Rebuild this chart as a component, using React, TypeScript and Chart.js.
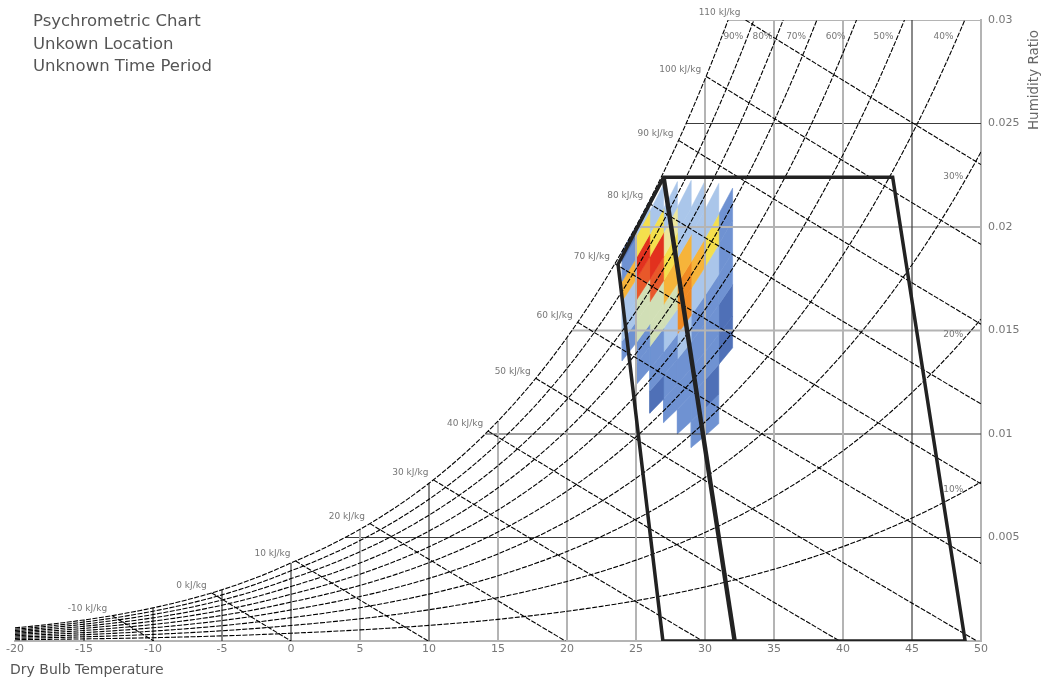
import { useEffect, useRef } from 'react';
import { Chart, registerables } from 'chart.js';

Chart.register(...registerables);

// ---- chart text ----
const TITLE_LINES = ['Psychrometric Chart', 'Unkown Location', 'Unknown Time Period'];
const X_TITLE = 'Dry Bulb Temperature';
const Y_TITLE = 'Humidity Ratio';

// ---- axes ----
const T_MIN = -20;
const T_MAX = 50;
const W_MAX = 0.03;
const X_TICKS = [-20, -15, -10, -5, 0, 5, 10, 15, 20, 25, 30, 35, 40, 45, 50];
const W_TICKS = [0.005, 0.01, 0.015, 0.02, 0.025, 0.03];
const DARK_T_GRID = [-15, -10, -5, 0, 10, 45];
const DARK_W_GRID = [0.005, 0.01, 0.025];

// ---- psychrometric guide lines ----
const RH_LINES = [10, 20, 30, 40, 50, 60, 70, 80, 90, 100];
const ENTHALPY_LINES = [-10, 0, 10, 20, 30, 40, 50, 60, 70, 80, 90, 100, 110];

// ---- zone outline (dry bulb °C, humidity ratio) ----
const ZONE_OUTER_T = [26.95, 23.7, 27.0, 43.6, 48.85, 26.95];
const ZONE_OUTER_W = [0, 0.0182, 0.0224, 0.0224, 0, 0];
const ZONE_SPLIT_T = [27.0, 32.15];
const ZONE_SPLIT_W = [0.0224, 0];

// ---- hourly frequency bands: 1 °C dry-bulb columns x 5 % RH bins ----
const TEMP_BINS = [24, 25, 26, 27, 28, 29, 30, 31];
const RH_BINS = [100, 95, 90, 85, 80, 75, 70, 65, 60, 55, 50, 45, 40];
const band24 = [1, 2, 7, 3, 3, 2, 0, 0, 0, 0, 0, 0, 0];
const band25 = [3, 6, 10, 9, 4, 4, 2, 2, 0, 0, 0, 0, 0];
const band26 = [0, 3, 6, 10, 9, 4, 4, 2, 2, 1, 0, 0, 0];
const band27 = [0, 0, 3, 5, 6, 7, 4, 3, 2, 2, 2, 0, 0];
const band28 = [0, 0, 0, 3, 3, 7, 8, 8, 3, 2, 2, 2, 0];
const band29 = [0, 0, 0, 0, 3, 3, 7, 3, 2, 2, 2, 2, 2];
const band30 = [0, 0, 0, 0, 0, 3, 6, 3, 2, 2, 2, 1, 2];
const band31 = [0, 0, 0, 0, 0, 0, 2, 2, 2, 1, 1, 0, 0];
const COLUMN_BANDS = [band24, band25, band26, band27, band28, band29, band30, band31];

const BAND_COLORS = ['', '#4f70b7', '#6f92d2', '#aac6ea', '#d1dfb6', '#ece69c', '#f4df4d', '#f6b43a', '#f08a23', '#e8582a', '#e2311e'];

// ---- psychrometrics (sea-level pressure, kPa) ----
const P_ATM = 101.325;
const satPressure = (t: number) =>
  t >= 0 ? 0.61094 * Math.exp((17.625 * t) / (t + 243.04)) : 0.61115 * Math.exp((22.452 * t) / (272.55 + t));
const humidityRatio = (t: number, rh: number) => {
  const pw = rh * satPressure(t);
  return (0.622 * pw) / (P_ATM - pw);
};
const enthalpy = (t: number, w: number) => 1.006 * t + w * (2501 + 1.86 * t);

// root of an increasing function on [lo, hi]
function solve(f: (v: number) => number, lo: number, hi: number) {
  for (let i = 0; i < 60; i++) {
    const m = (lo + hi) / 2;
    if (f(m) > 0) hi = m;
    else lo = m;
  }
  return (lo + hi) / 2;
}

type Pt = { x: number; y: number };

function rhCurve(rhPct: number): Pt[] {
  const rh = rhPct / 100;
  const tEnd = humidityRatio(T_MAX, rh) > W_MAX ? solve((t) => humidityRatio(t, rh) - W_MAX, T_MIN, T_MAX) : T_MAX;
  const pts: Pt[] = [];
  for (let t = T_MIN; t < tEnd; t += 0.5) pts.push({ x: t, y: humidityRatio(t, rh) });
  pts.push({ x: tEnd, y: Math.min(humidityRatio(tEnd, rh), W_MAX) });
  return pts;
}

function enthalpyLine(h: number): Pt[] {
  let t0 = solve((t) => enthalpy(t, humidityRatio(t, 1)) - h, T_MIN, T_MAX);
  let w0 = humidityRatio(t0, 1);
  if (w0 > W_MAX) {
    w0 = W_MAX;
    t0 = (h - 2501 * w0) / (1.006 + 1.86 * w0);
  }
  let w1 = 0;
  if (h / 1.006 > T_MAX) w1 = (h - 1.006 * T_MAX) / (2501 + 1.86 * T_MAX);
  const pts: Pt[] = [];
  for (let i = 0; i <= 20; i++) {
    const w = w0 + ((w1 - w0) * i) / 20;
    pts.push({ x: (h - 2501 * w) / (1.006 + 1.86 * w), y: w });
  }
  return pts;
}

const dewPoint = (w: number) => solve((t) => humidityRatio(t, 1) - w, T_MIN, T_MAX);

function lineSet(data: Pt[], color: string, width: number, dash: number[], order: number) {
  return {
    data,
    showLine: true,
    pointRadius: 0,
    pointHoverRadius: 0,
    borderColor: color,
    borderWidth: width,
    borderDash: dash,
    fill: false,
    tension: 0,
    order,
  };
}

function buildDatasets() {
  const sets: any[] = [];

  // outlined zone, drawn on top
  sets.push(lineSet(ZONE_OUTER_T.map((t, i) => ({ x: t, y: ZONE_OUTER_W[i] })), '#222', 3.5, [], 0));
  sets.push(lineSet(ZONE_SPLIT_T.map((t, i) => ({ x: t, y: ZONE_SPLIT_W[i] })), '#222', 4.5, [], 0));

  // relative humidity curves
  RH_LINES.forEach((rh) => sets.push(lineSet(rhCurve(rh), '#000', 1.1, [5, 1.5], 1)));
  // enthalpy lines
  ENTHALPY_LINES.forEach((h) => sets.push(lineSet(enthalpyLine(h), '#000', 1.1, [5, 1.5], 1)));

  // dry-bulb grid, stopping at saturation
  X_TICKS.filter((t) => t > T_MIN && t < T_MAX).forEach((t) => {
    const dark = DARK_T_GRID.includes(t);
    const top = Math.min(humidityRatio(t, 1), W_MAX);
    sets.push(lineSet([{ x: t, y: 0 }, { x: t, y: top }], dark ? '#3c3c3c' : '#b4b4b4', dark ? 1.2 : 2, [], 2));
  });
  // humidity-ratio grid, starting at the dew point
  W_TICKS.forEach((w) => {
    const dark = DARK_W_GRID.includes(w);
    sets.push(lineSet([{ x: dewPoint(w), y: w }, { x: T_MAX, y: w }], dark ? '#3c3c3c' : '#b4b4b4', dark ? 1.2 : 2, [], 2));
  });

  // frequency cells: one parallelogram per dry-bulb column and RH bin
  TEMP_BINS.forEach((t0, ci) => {
    COLUMN_BANDS[ci].forEach((band, bi) => {
      if (!band) return;
      const rc = RH_BINS[bi];
      const lo = (rc - 2.5) / 100;
      const hi = Math.min(rc + 2.5, 100) / 100;
      const t1 = t0 + 1;
      const color = BAND_COLORS[band];
      sets.push({
        data: [
          { x: t0, y: humidityRatio(t0, lo) },
          { x: t1, y: humidityRatio(t1, lo) },
          { x: t1, y: humidityRatio(t1, hi) },
          { x: t0, y: humidityRatio(t0, hi) },
          { x: t0, y: humidityRatio(t0, lo) },
        ],
        showLine: true,
        pointRadius: 0,
        pointHoverRadius: 0,
        borderColor: color,
        borderWidth: 0.6,
        backgroundColor: color,
        fill: 'shape',
        tension: 0,
        order: 3,
      });
    });
  });

  return sets;
}

const FONT = '"DejaVu Sans", Verdana, sans-serif';

const textPlugin = {
  id: 'psychroText',
  afterDraw(chart: any) {
    const { ctx, chartArea } = chart;
    const xs = chart.scales.x;
    const ys = chart.scales.y;
    ctx.save();

    // title block
    ctx.fillStyle = '#555';
    ctx.font = `16.5px ${FONT}`;
    ctx.textAlign = 'left';
    ctx.textBaseline = 'middle';
    TITLE_LINES.forEach((s, i) => ctx.fillText(s, 33, 22 + i * 22.5));

    // axis titles
    ctx.font = `14px ${FONT}`;
    ctx.fillText(X_TITLE, 10, 670);
    ctx.save();
    ctx.translate(1034, 80);
    ctx.rotate(-Math.PI / 2);
    ctx.textAlign = 'center';
    ctx.fillStyle = '#666';
    ctx.font = `13.5px ${FONT}`;
    ctx.fillText(Y_TITLE, 0, 0);
    ctx.restore();

    // enthalpy labels at the start of each line
    ctx.font = `9px ${FONT}`;
    ctx.fillStyle = '#777';
    ctx.textAlign = 'right';
    ENTHALPY_LINES.forEach((h) => {
      const p = enthalpyLine(h)[0];
      ctx.fillText(`${h} kJ/kg`, xs.getPixelForValue(p.x) - 5, ys.getPixelForValue(p.y) - 7);
    });

    // relative humidity labels near where each curve leaves the plot
    RH_LINES.filter((r) => r < 100).forEach((r) => {
      const rh = r / 100;
      let t: number;
      if (humidityRatio(T_MAX, rh) > W_MAX) {
        const wl = ys.getValueForPixel(chartArea.top + 17);
        t = solve((v) => humidityRatio(v, rh) - wl, T_MIN, T_MAX);
      } else {
        t = 49;
      }
      ctx.fillText(`${r}%`, xs.getPixelForValue(t) - 4, ys.getPixelForValue(humidityRatio(t, rh)));
    });

    ctx.restore();
  },
};

export default function App() {
  const ref = useRef<HTMLCanvasElement>(null);

  useEffect(() => {
    if (!ref.current) return;
    const chart = new Chart(ref.current, {
      type: 'scatter',
      data: { datasets: buildDatasets() },
      options: {
        animation: false,
        responsive: false,
        events: [],
        layout: { padding: { left: 15, top: 20, right: 0, bottom: 0 } },
        plugins: { legend: { display: false }, tooltip: { enabled: false } },
        scales: {
          x: {
            type: 'linear',
            min: T_MIN,
            max: T_MAX,
            grid: { display: false, drawTicks: false },
            border: { display: true, color: '#b4b4b4', width: 2 },
            ticks: {
              padding: 2,
              color: '#777',
              maxRotation: 0,
              autoSkip: false,
              font: { family: FONT, size: 11 },
              callback: (v: any) => String(v),
            },
            afterBuildTicks: (axis: any) => {
              axis.ticks = X_TICKS.map((v) => ({ value: v }));
            },
            afterFit: (scale: any) => {
              scale.height = 40;
            },
          },
          y: {
            type: 'linear',
            position: 'right',
            min: 0,
            max: W_MAX,
            grid: { display: false, drawTicks: false },
            border: { display: true, color: '#b4b4b4', width: 2 },
            ticks: {
              padding: 7,
              color: '#777',
              autoSkip: false,
              font: { family: FONT, size: 11 },
              callback: (v: any) => String(v),
            },
            afterBuildTicks: (axis: any) => {
              axis.ticks = W_TICKS.map((v) => ({ value: v }));
            },
            afterFit: (scale: any) => {
              scale.width = 65;
            },
          },
        },
      } as any,
      plugins: [textPlugin],
    });
    return () => chart.destroy();
  }, []);

  return <canvas ref={ref} width={1046} height={681} style={{ position: 'fixed', left: 0, top: 0 }} />;
}
